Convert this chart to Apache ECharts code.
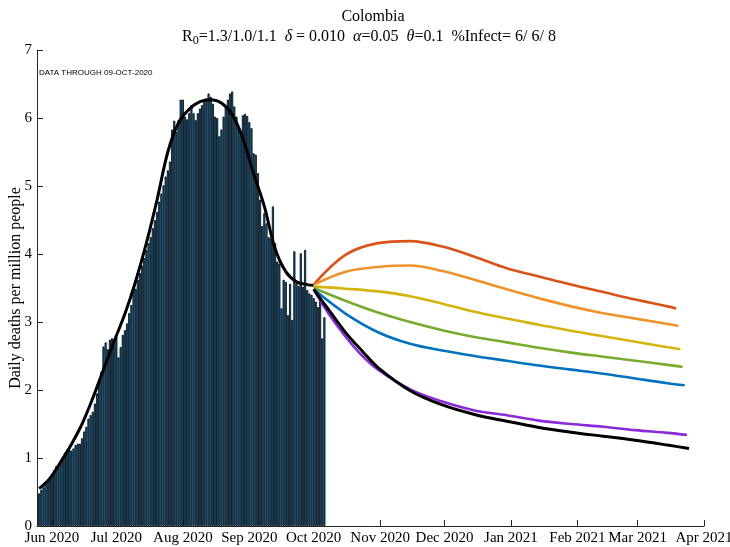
<!DOCTYPE html>
<html>
<head>
<meta charset="utf-8">
<script src="https://cdn.jsdelivr.net/npm/echarts@6/dist/echarts.min.js"></script>
<style>html,body{margin:0;padding:0;background:#fff;}#c{width:730px;height:547px;}</style>
</head>
<body>
<div id="c"></div>
<script>
// ---- Data ----
const barStart = '2020-05-26';
const dailyDeaths = [
  0.48,0.53,0.57,0.62,0.66,0.70,0.75,0.82,0.88,0.90,0.94,1.02,1.08,1.12,1.12,1.11,1.14,1.19,1.21,1.21,
  1.29,1.39,1.46,1.58,1.63,1.68,1.80,1.95,2.15,2.27,2.64,2.70,2.60,2.74,2.76,2.70,2.79,2.48,2.63,2.81,
  2.88,2.98,3.13,3.25,3.48,3.49,
  3.62,3.72,3.83,3.94,4.06,4.16,4.25,4.38,4.50,4.62,4.77,4.89,5.01,5.14,5.23,5.36,5.83,5.96,5.80,5.97,
  6.27,6.27,6.02,5.98,6.07,6.19,6.07,5.97,6.07,6.14,6.19,6.26,6.29,6.36,6.31,6.21,6.02,6.00,5.73,5.83,
  6.02,6.19,6.27,6.36,
  6.39,6.17,6.02,5.87,5.75,6.04,6.06,6.03,5.94,5.85,5.48,5.46,5.19,4.80,4.41,4.60,4.45,4.25,4.23,4.70,
  4.16,3.89,3.86,3.20,3.62,3.59,3.10,3.56,3.03,4.04,3.57,3.53,4.01,3.52,4.06,3.47,3.42,3.40,3.35,3.30,
  3.22,3.32,2.76,3.07
];

// fitted curve (black) through the observed period
const fitDates = ['2020-05-26','2020-05-31','2020-06-05','2020-06-10','2020-06-15','2020-06-20','2020-06-25','2020-06-30','2020-07-05','2020-07-10','2020-07-15','2020-07-20','2020-07-25','2020-07-30','2020-08-04','2020-08-09','2020-08-14','2020-08-19','2020-08-24','2020-08-29','2020-09-03','2020-09-08','2020-09-13','2020-09-18','2020-09-23','2020-09-28','2020-10-01'];
const fitValues = [0.55,0.70,0.94,1.20,1.50,1.88,2.30,2.72,3.12,3.60,4.16,4.80,5.50,5.93,6.13,6.24,6.27,6.22,6.05,5.70,5.18,4.70,4.08,3.74,3.59,3.55,3.54];

// projections
const projDates = ['2020-10-01','2020-10-16','2020-10-31','2020-11-15','2020-11-30','2020-12-15','2020-12-30','2021-01-14','2021-01-29','2021-02-13','2021-02-28','2021-03-15'];
const redValues    = [3.55,3.99,4.16,4.19,4.11,3.96,3.79,3.67,3.55,3.44,3.33,3.23];
const redEnd       = ['2021-03-19', 3.20];
const orangeValues = [3.55,3.74,3.81,3.83,3.75,3.62,3.48,3.35,3.23,3.13,3.05,2.97];
const orangeEnd    = ['2021-03-20', 2.94];
const yellowValues = [3.52,3.49,3.45,3.38,3.27,3.15,3.05,2.96,2.87,2.79,2.71,2.63];
const yellowEnd    = ['2021-03-21', 2.60];
const greenValues  = [3.50,3.31,3.14,3.00,2.88,2.78,2.70,2.62,2.55,2.49,2.43,2.37];
const greenEnd     = ['2021-03-22', 2.34];
const blueValues   = [3.48,3.12,2.85,2.68,2.58,2.50,2.43,2.36,2.30,2.24,2.17,2.10];
const blueEnd      = ['2021-03-23', 2.07];

const proj2Dates = ['2020-10-01','2020-10-08','2020-10-16','2020-10-24','2020-10-31','2020-11-15','2020-11-30','2020-12-15','2020-12-30','2021-01-14','2021-01-29','2021-02-13','2021-02-28','2021-03-15'];
const purpleValues = [3.48,3.12,2.78,2.49,2.30,2.01,1.83,1.70,1.63,1.55,1.50,1.46,1.41,1.37];
const purpleEnd    = ['2021-03-24', 1.34];
const blackValues  = [3.48,3.18,2.84,2.56,2.33,1.99,1.78,1.64,1.54,1.45,1.38,1.32,1.26,1.19];
const blackEnd     = ['2021-03-25', 1.14];

const monthTicks = ['2020-06-01','2020-07-01','2020-08-01','2020-09-01','2020-10-01','2020-11-01','2020-12-01','2021-01-01','2021-02-01','2021-03-01','2021-04-01'];
const monthNames = ['Jan','Feb','Mar','Apr','May','Jun','Jul','Aug','Sep','Oct','Nov','Dec'];
const yTicks = [0,1,2,3,4,5,6,7];

// ---- Build ----
function parseDay(s){ const p = s.split('-'); return Date.UTC(+p[0], +p[1]-1, +p[2]); }
const DAY = 86400000;
const t0 = parseDay(barStart);
const barData = dailyDeaths.map((v,i)=>[t0 + i*DAY, v]);
function zip(dates, vals, end){ const a = dates.map((d,i)=>[parseDay(d), vals[i]]); if(end) a.push([parseDay(end[0]), end[1]]); return a; }

const serif = 'Liberation Serif, Times New Roman, serif';
function lineSeries(data, color, width, z){
  return { type:'line', data, showSymbol:false, smooth:0.35, z:z||3,
    lineStyle:{ color, width }, itemStyle:{color}, animation:false };
}

const tickVals = monthTicks.map(parseDay);
const chart = echarts.init(document.getElementById('c'), null, {renderer:'canvas'});
chart.setOption({
  animation:false,
  backgroundColor:'#fff',
  title:[{
    text:'Colombia', left:368, top:4, textAlign:'center',
    textStyle:{ fontFamily:serif, fontSize:16, fontWeight:'normal', color:'#000' }
  },{
    text:'{n|R}{s|0}{n|=1.3/1.0/1.1  }{g|δ}{n| = 0.010  }{g|α}{n|=0.05  }{g|θ}{n|=0.1  %Infect= 6/ 6/ 8}',
    left:364, top:22, textAlign:'center',
    textStyle:{ fontWeight:'normal', rich:{
      n:{ fontFamily:serif, fontSize:16, color:'#000', fontWeight:'normal' },
      g:{ fontFamily:serif, fontSize:16, color:'#000', fontStyle:'italic', fontWeight:'normal' },
      s:{ fontFamily:serif, fontSize:12, color:'#000', fontWeight:'normal', verticalAlign:'bottom', padding:[8,0,0,0] }
    }}
  }],
  graphic:[{
    type:'text', left:39, top:69,
    style:{ text:'DATA THROUGH 09-OCT-2020', font:'8px Liberation Sans, Arial, sans-serif', fill:'#000' }
  }],
  grid:{ left:37, right:26, top:50, bottom:21, containLabel:false, outerBoundsMode:'none' },
  xAxis:{
    type:'value',
    min: parseDay('2020-05-25'), max: parseDay('2021-04-01'),
    axisLine:{ lineStyle:{ color:'#262626', width:1 } },
    axisTick:{ inside:true, length:6, lineStyle:{ color:'#262626' }, customValues: tickVals },
    axisLabel:{ customValues: tickVals, fontFamily:serif, fontSize:15, color:'#000', margin:5,
      formatter:(v)=>{ const d=new Date(v); return monthNames[d.getUTCMonth()]+' '+d.getUTCFullYear(); } },
    splitLine:{ show:false }
  },
  yAxis:{
    type:'value', min:0, max:7, interval:1,
    name:'Daily deaths per million people', nameLocation:'middle', nameGap:13, nameMoveOverlap:false,
    nameTextStyle:{ fontFamily:serif, fontSize:16, color:'#000' },
    axisLine:{ show:true, lineStyle:{ color:'#262626', width:1 } },
    axisTick:{ show:true, inside:true, length:6, lineStyle:{ color:'#262626' } },
    axisLabel:{ fontFamily:serif, fontSize:15, color:'#000', margin:5,
      formatter:(v)=> yTicks.indexOf(v)>=0 ? String(v) : '' },
    splitLine:{ show:false }
  },
  series:[
    { type:'bar', data:barData, barWidth:2.1, z:2, animation:false,
      itemStyle:{ color:'#0072BD', borderColor:'#000', borderWidth:0.8 } },
    lineSeries(zip(fitDates, fitValues), '#000', 3, 4),
    lineSeries(zip(projDates, redValues, redEnd), '#D95319', 2.6, 5),
    lineSeries(zip(projDates, orangeValues, orangeEnd), '#F0922A', 2.6, 5),
    lineSeries(zip(projDates, yellowValues, yellowEnd), '#D4B40C', 2.6, 5),
    lineSeries(zip(projDates, greenValues, greenEnd), '#77AC30', 2.6, 5),
    lineSeries(zip(projDates, blueValues, blueEnd), '#0072BD', 2.6, 5),
    lineSeries(zip(proj2Dates, purpleValues, purpleEnd), '#8A2BD8', 2.6, 5),
    lineSeries(zip(proj2Dates, blackValues, blackEnd), '#000', 3, 5)
  ]
});
</script>
</body>
</html>
